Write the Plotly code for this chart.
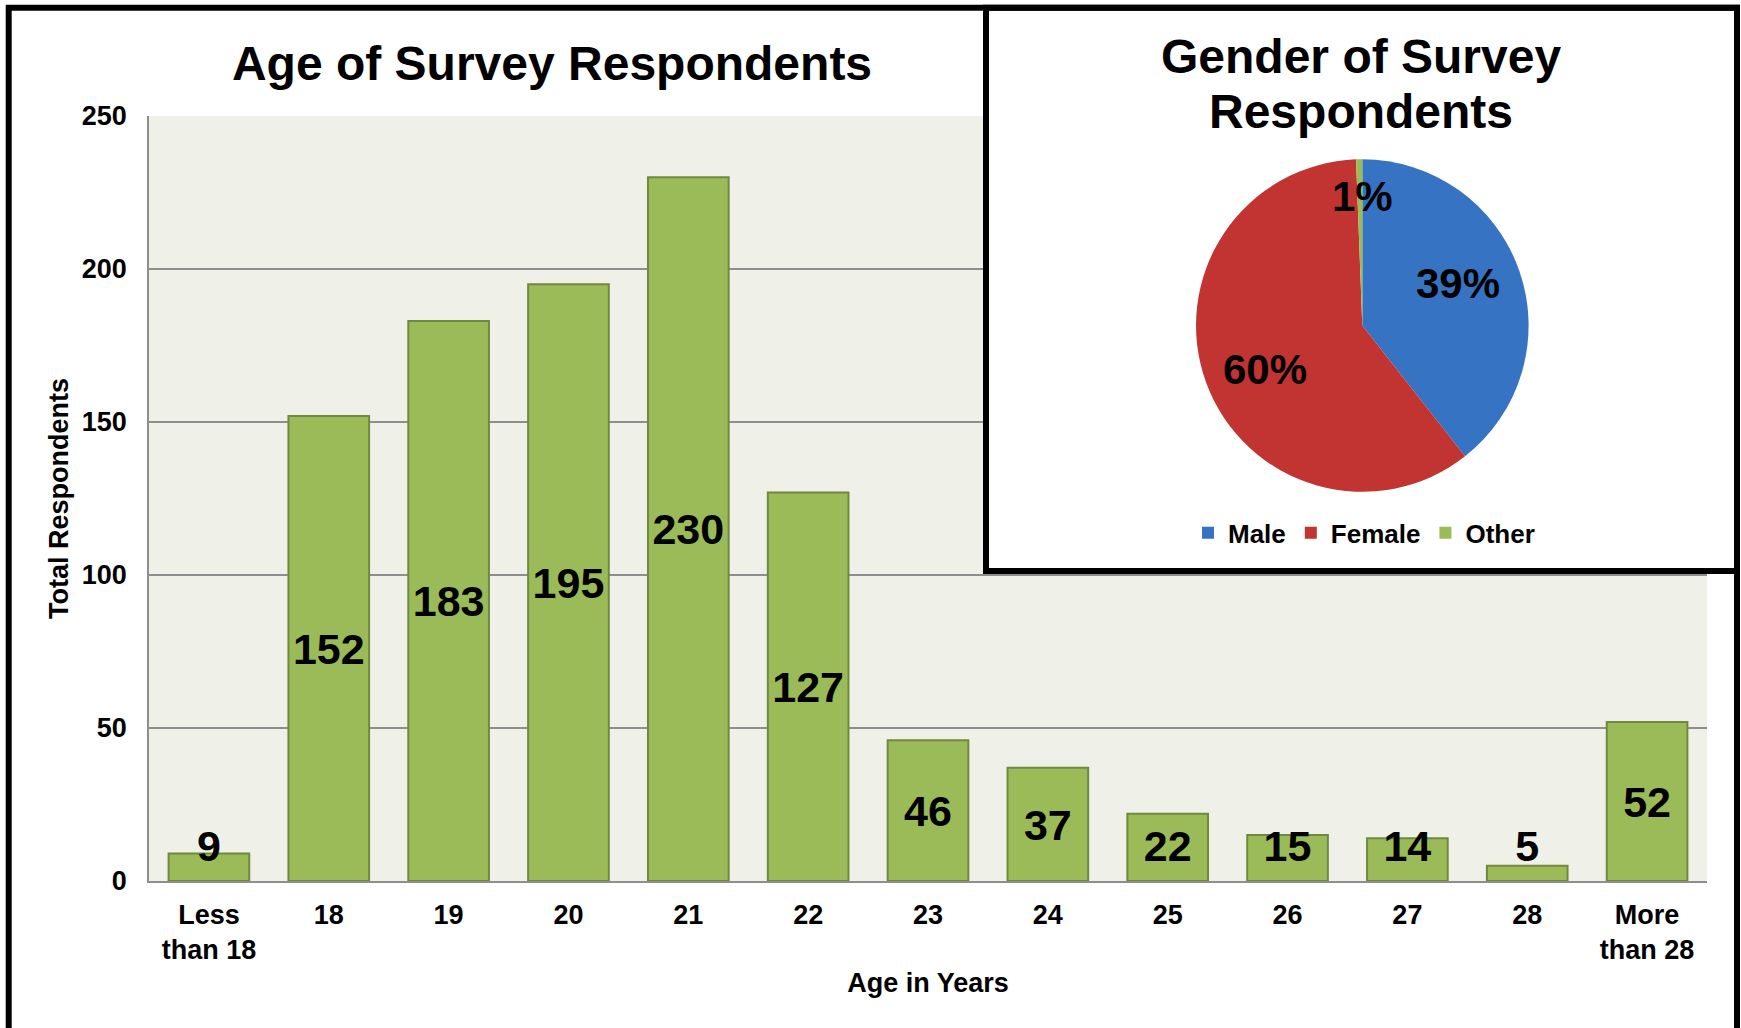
import math
import plotly.graph_objects as go

# ---------------- data ----------------
age_categories = ["Less<br>than 18", "18", "19", "20", "21", "22", "23", "24",
                  "25", "26", "27", "28", "More<br>than 28"]
age_counts = [9, 152, 183, 195, 230, 127, 46, 37, 22, 15, 14, 5, 52]

gender_labels = ["Male", "Female", "Other"]
gender_share = [39.4, 60.0, 0.6]

y_ticks = [0, 50, 100, 150, 200, 250]

# ---------------- styling ----------------
FONT = "Liberation Sans, Arial, sans-serif"
BAR_FILL = "#9BBB59"
BAR_LINE = "#71893F"
PLOT_BG = "#EFF1E9"
GRID = "#8E8E8E"
PIE_COLORS = ["#3673C2", "#C13431", "#9BBB59"]

W, H = 1741, 1028
ML, MR, MT, MB = 149, 34, 115.5, 146.5
PW, PH = W - ML - MR, H - MT - MB
Y_MAX = 250
N = len(age_categories)


def px_to_paper_x(px):
    return (px - ML) / PW


def px_to_paper_y(py):
    return (H - MB - py) / PH


LABEL_MIN_Y = 11.6          # keep small-bar labels above the axis, as in the reference
LABEL_DROP = 4.5 / PH * Y_MAX  # small downward nudge (4.5 px) of the value labels
label_y = [max(v / 2, LABEL_MIN_Y) - LABEL_DROP for v in age_counts]

fig = go.Figure()

fig.add_trace(go.Bar(
    x=age_categories, y=age_counts,
    marker=dict(color=BAR_FILL, line=dict(color=BAR_LINE, width=2)),
    showlegend=False, hoverinfo="x+y",
))

fig.add_trace(go.Scatter(
    x=age_categories, y=label_y, mode="text",
    text=[str(v) for v in age_counts],
    textfont=dict(size=43, color="black", family=FONT, weight="bold"),
    textposition="middle center",
    showlegend=False, hoverinfo="skip", cliponaxis=False,
))

# pie chart
cx, cy, r = 1362.3, 325.3, 166.5
fig.add_trace(go.Pie(
    labels=gender_labels, values=gender_share,
    marker=dict(colors=PIE_COLORS, line=dict(width=0)),
    sort=False, direction="clockwise", rotation=0,
    textinfo="none",
    domain=dict(x=[px_to_paper_x(cx - r), px_to_paper_x(cx + r)],
                y=[px_to_paper_y(cy + r), px_to_paper_y(cy - r)]),
    hoverinfo="label+percent",
))

# percentage labels placed along each slice's middle angle
total = sum(gender_share)
label_radius = [0.63, 0.64, 0.775]
label_angle_shift = [-4.5, -4.5, 1.1]  # degrees
pie_annotations = []
start = 0.0
for share, rf, da in zip(gender_share, label_radius, label_angle_shift):
    frac = share / total
    mid = (start + frac / 2) * 2 * math.pi + math.radians(da)
    start += frac
    lx = cx + rf * r * math.sin(mid)
    ly = cy - rf * r * math.cos(mid)
    pie_annotations.append(dict(
        text=f"{frac:.0%}", xref="paper", yref="paper",
        x=px_to_paper_x(lx), y=px_to_paper_y(ly), xanchor="center", yanchor="middle",
        showarrow=False, font=dict(size=42, color="black", family=FONT, weight="bold")))

# box geometry (pixels)
box_left, box_right, box_top, box_bottom = 986, 1737, 7, 571
outer_left, outer_top = 8.7, 7
BORDER_W = 6


def paper_to_xdata(p):
    return p * N - 0.5


def paper_to_ydata(p):
    return p * Y_MAX


shapes = [
    # white fill of the inset box, hiding the gridlines behind it
    dict(type="rect", layer="between", xref="x", yref="y",
         x0=paper_to_xdata(px_to_paper_x(box_left)), x1=N + 1,
         y0=paper_to_ydata(px_to_paper_y(box_bottom)), y1=Y_MAX * 1.5,
         fillcolor="white", line=dict(width=0)),
    # inset box border
    dict(type="rect", layer="above", xref="paper", yref="paper",
         x0=px_to_paper_x(box_left), x1=px_to_paper_x(box_right),
         y0=px_to_paper_y(box_bottom), y1=px_to_paper_y(box_top),
         fillcolor="rgba(0,0,0,0)", line=dict(color="black", width=BORDER_W)),
    # outer border of the whole chart
    dict(type="rect", layer="above", xref="paper", yref="paper",
         x0=px_to_paper_x(outer_left), x1=px_to_paper_x(box_right),
         y0=px_to_paper_y(H + 30), y1=px_to_paper_y(outer_top),
         fillcolor="rgba(0,0,0,0)", line=dict(color="black", width=BORDER_W)),
]

title_font = dict(size=48, color="black", family=FONT, weight="bold")
annotations = [
    dict(text="Gender of Survey", xref="paper", yref="paper",
         x=px_to_paper_x(1361), y=px_to_paper_y(55.5), xanchor="center", yanchor="middle",
         showarrow=False, font=title_font),
    dict(text="Respondents", xref="paper", yref="paper",
         x=px_to_paper_x(1361), y=px_to_paper_y(111), xanchor="center", yanchor="middle",
         showarrow=False, font=title_font),
] + pie_annotations

fig.update_layout(
    width=W, height=H,
    margin=dict(l=ML, r=MR, t=MT, b=MB, autoexpand=False),
    paper_bgcolor="white", plot_bgcolor=PLOT_BG,
    font=dict(family=FONT, color="black", weight="bold"),
    title=dict(text="Age of Survey Respondents", x=552 / W, xanchor="center",
               y=1 - 63 / H, yanchor="middle", xref="container", yref="container",
               font=title_font),
    bargap=0.327,
    xaxis=dict(type="category", range=[-0.5, N - 0.5], showgrid=False,
               showline=True, linecolor=GRID, linewidth=1.8, ticks="",
               tickfont=dict(size=27, family=FONT, weight="bold"),
               ticklabelstandoff=9, automargin=False, fixedrange=True,
               title=dict(text="Age in Years", standoff=9,
                          font=dict(size=27, family=FONT, weight="bold"))),
    yaxis=dict(range=[0, Y_MAX], tickvals=y_ticks, showgrid=True,
               gridcolor=GRID, gridwidth=1.8, zeroline=False,
               showline=True, linecolor=GRID, linewidth=1.8, ticks="",
               tickfont=dict(size=27, family=FONT, weight="bold"),
               ticklabelstandoff=15, automargin=False, fixedrange=True,
               title=dict(text="Total Respondents", standoff=5.5,
                          font=dict(size=27, family=FONT, weight="bold"))),
    legend=dict(orientation="h", x=px_to_paper_x(1364), y=px_to_paper_y(533),
                xanchor="center", yanchor="middle", itemwidth=30,
                font=dict(size=26, family=FONT, weight="bold"),
                bgcolor="rgba(0,0,0,0)"),
    shapes=shapes,
    annotations=annotations,
)

fig.write_html("out.html",
               config={"displayModeBar": False},
               post_script="document.body.style.margin='0px';")
